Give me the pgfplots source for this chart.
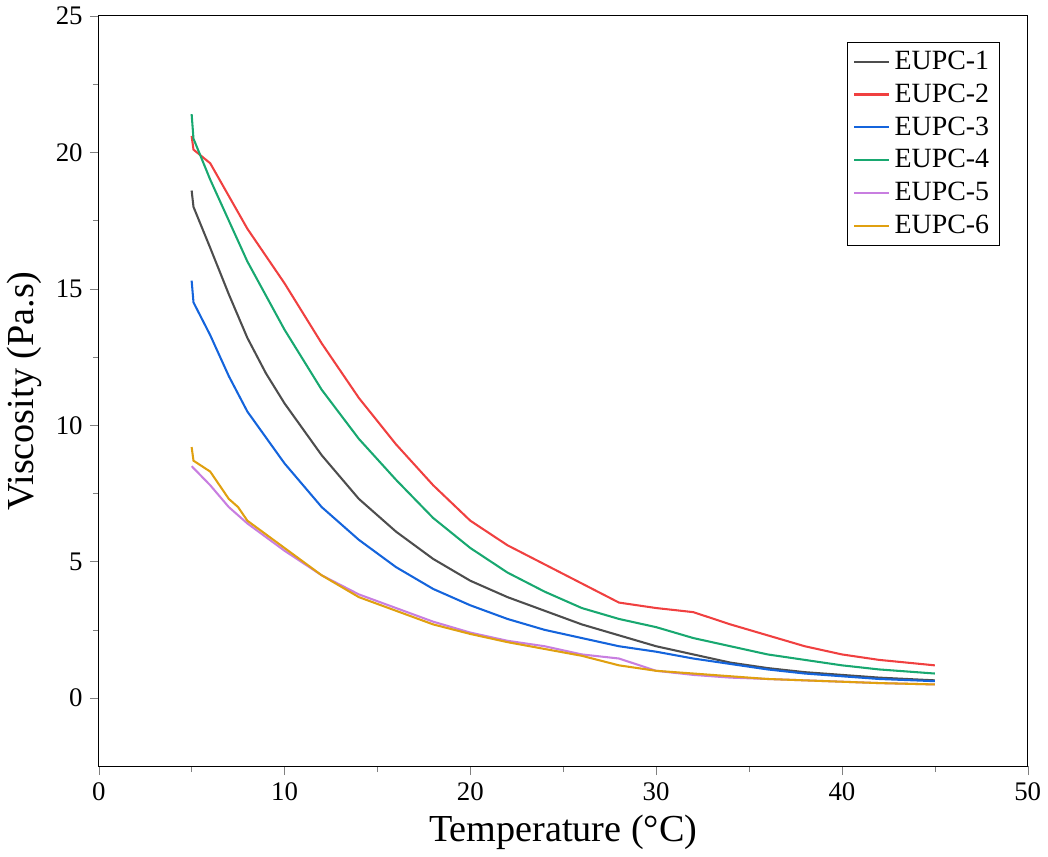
\documentclass[border=0pt]{standalone}
\usepackage{pgfplots}
\pgfplotsset{compat=1.18}
\usepackage{fontspec}
\setmainfont{Liberation Serif}
\definecolor{c1}{HTML}{4D4D4D}\definecolor{c2}{HTML}{F04040}\definecolor{c3}{HTML}{1464DC}
\definecolor{c4}{HTML}{18A870}\definecolor{c5}{HTML}{C87EE0}\definecolor{c6}{HTML}{E0A010}
\begin{document}
\begin{tikzpicture}
\begin{axis}[scale only axis, width=450pt, height=363.5pt,
 xmin=0,xmax=50,ymin=-2.5,ymax=25,
 xtick={0,10,...,50}, ytick={0,5,...,25}, minor x tick num=1, minor y tick num=1,
 tick align=outside, xtick pos=bottom, ytick pos=left,
 /pgf/number format/assume math mode=true,
 tick label style={font=\fontsize{13}{15}\selectfont},
 xlabel={Temperature (°C)}, ylabel={Viscosity (Pa.s)},
 label style={font=\fontsize{18.5}{21}\selectfont},
 legend style={at={(0.97,0.965)},anchor=north east,font=\fontsize{13.5}{16}\selectfont,row sep=1.5pt},
 legend cell align=left, every axis plot/.append style={line width=1pt}]
\addplot[c1] coordinates {(5,18.6)(5.1,18.0)(6,16.5)(7,14.8)(8,13.2)(9,11.9)(10,10.8)(12,8.9)(14,7.3)(16,6.1)(18,5.1)(20,4.3)(22,3.7)(24,3.2)(26,2.7)(28,2.3)(30,1.9)(32,1.6)(34,1.3)(36,1.1)(38,0.95)(40,0.85)(42,0.75)(45,0.65)};
\addplot[c2] coordinates {(5,20.6)(5.1,20.1)(6,19.6)(8,17.2)(10,15.2)(12,13.0)(14,11.0)(16,9.3)(18,7.8)(20,6.5)(22,5.6)(24,4.9)(26,4.2)(28,3.5)(30,3.3)(32,3.15)(34,2.7)(36,2.3)(38,1.9)(40,1.6)(42,1.4)(45,1.2)};
\addplot[c3] coordinates {(5,15.3)(5.1,14.5)(6,13.3)(7,11.8)(8,10.5)(10,8.6)(12,7.0)(14,5.8)(16,4.8)(18,4.0)(20,3.4)(22,2.9)(24,2.5)(26,2.2)(28,1.9)(30,1.7)(32,1.45)(34,1.25)(36,1.05)(38,0.9)(40,0.8)(42,0.7)(45,0.62)};
\addplot[c4] coordinates {(5,21.4)(5.1,20.5)(6,19.0)(8,16.0)(10,13.5)(12,11.3)(14,9.5)(16,8.0)(18,6.6)(20,5.5)(22,4.6)(24,3.9)(26,3.3)(28,2.9)(30,2.6)(32,2.2)(34,1.9)(36,1.6)(38,1.4)(40,1.2)(42,1.05)(45,0.9)};
\addplot[c5] coordinates {(5,8.5)(6,7.8)(7,7.0)(8,6.4)(10,5.4)(12,4.5)(14,3.8)(16,3.3)(18,2.8)(20,2.4)(22,2.1)(24,1.9)(26,1.6)(28,1.45)(30,1.0)(32,0.85)(34,0.75)(36,0.7)(38,0.65)(40,0.6)(42,0.55)(45,0.5)};
\addplot[c6] coordinates {(5,9.2)(5.1,8.7)(6,8.3)(7,7.3)(7.5,7.0)(8,6.5)(10,5.5)(12,4.5)(14,3.7)(16,3.2)(18,2.7)(20,2.35)(22,2.05)(24,1.8)(26,1.55)(28,1.2)(30,1.0)(32,0.9)(34,0.8)(36,0.7)(38,0.65)(40,0.6)(42,0.55)(45,0.5)};
\legend{EUPC-1,EUPC-2,EUPC-3,EUPC-4,EUPC-5,EUPC-6}
\end{axis}
\end{tikzpicture}
\end{document}
